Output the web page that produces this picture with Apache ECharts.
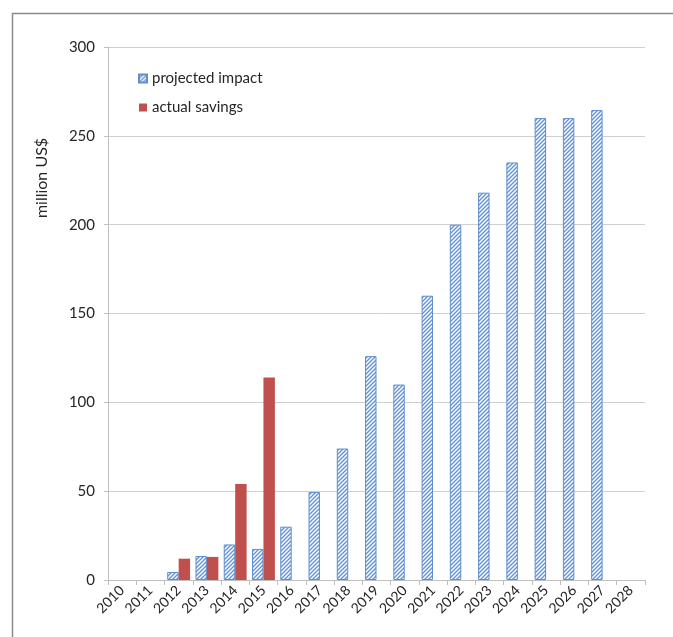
<!DOCTYPE html>
<html>
<head>
<meta charset="utf-8">
<script src="https://cdn.jsdelivr.net/npm/echarts@6/dist/echarts.min.js"></script>
<style>
  html, body { margin: 0; padding: 0; background: #fff; }
  #chart { width: 673px; height: 637px; }
</style>
</head>
<body>
<div id="chart"></div>
<script>
// Years on the category axis
const years = ['2010','2011','2012','2013','2014','2015','2016','2017','2018','2019',
               '2020','2021','2022','2023','2024','2025','2026','2027','2028'];
// Projected impact (million US$)
const projectedImpact = [null, null, 4.5, 13.5, 20, 17.5, 30, 49.5, 74, 126,
                         110, 160, 200, 218, 235, 260, 260, 264.5, null];
// Actual savings (million US$)
const actualSavings = [null, null, 12, 13, 54, 114, null, null, null, null,
                       null, null, null, null, null, null, null, null, null];
// Value axis ticks
const yTicks = { min: 0, max: 300, step: 50 };

// Diagonal hatch fill for the projected bars
function hatchPattern() {
  const c = document.createElement('canvas');
  c.width = 4; c.height = 4;
  const g = c.getContext('2d');
  g.fillStyle = '#ffffff';
  g.fillRect(0, 0, 4, 4);
  g.strokeStyle = '#6693cc';
  g.lineWidth = 1.4;
  g.beginPath();
  g.moveTo(-1, 5); g.lineTo(5, -1);
  g.moveTo(-1, 1); g.lineTo(1, -1);
  g.moveTo(3, 5); g.lineTo(5, 3);
  g.stroke();
  return c;
}

const chart = echarts.init(document.getElementById('chart'), null, { renderer: 'canvas' });
const font = 'Lato, "Open Sans", sans-serif';
const ink = '#262626';

chart.setOption({
  animation: false,
  backgroundColor: '#ffffff',
  textStyle: { fontFamily: font },
  grid: { left: 108, right: 28, top: 47, bottom: 57, containLabel: false },
  legend: {
    orient: 'vertical',
    left: 133, top: 66,
    icon: 'rect',
    itemWidth: 8, itemHeight: 8, itemGap: 14,
    textStyle: { fontSize: 15, color: ink, fontFamily: font },
    data: ['projected impact', 'actual savings']
  },
  graphic: [
    { type: 'rect', left: 10, top: 11, shape: { width: 720, height: 700 },
      style: { fill: 'none', stroke: '#8a8a8a', lineWidth: 1.5 }, silent: true },
    { type: 'text', x: 42, y: 178, rotation: Math.PI / 2,
      style: { text: 'million US$', fontSize: 16, fill: ink, fontFamily: font,
               align: 'center', verticalAlign: 'middle' } }
  ],
  xAxis: {
    type: 'category',
    data: years,
    axisLine: { lineStyle: { color: '#bfbfbf' } },
    axisTick: { show: true, alignWithLabel: false, length: 5, lineStyle: { color: '#bfbfbf' } },
    axisLabel: { rotate: 45, fontSize: 14, color: ink, margin: 8, fontFamily: font, interval: 0 }
  },
  yAxis: {
    type: 'value',
    min: yTicks.min, max: yTicks.max, interval: yTicks.step,
    axisLine: { show: true, lineStyle: { color: '#bfbfbf' } },
    axisTick: { show: true, length: 4, lineStyle: { color: '#bfbfbf' } },
    axisLabel: { fontSize: 15, color: ink, margin: 13, fontFamily: font },
    splitLine: { lineStyle: { color: '#d0d0d0' } }
  },
  series: [
    {
      name: 'projected impact',
      type: 'bar',
      data: projectedImpact,
      barGap: '0%',
      barCategoryGap: '19%',
      itemStyle: {
        color: { image: hatchPattern(), repeat: 'repeat' },
        borderColor: '#5f8fcb',
        borderWidth: 1
      }
    },
    {
      name: 'actual savings',
      type: 'bar',
      data: actualSavings,
      itemStyle: { color: '#c0504d' }
    }
  ]
});
</script>
</body>
</html>
